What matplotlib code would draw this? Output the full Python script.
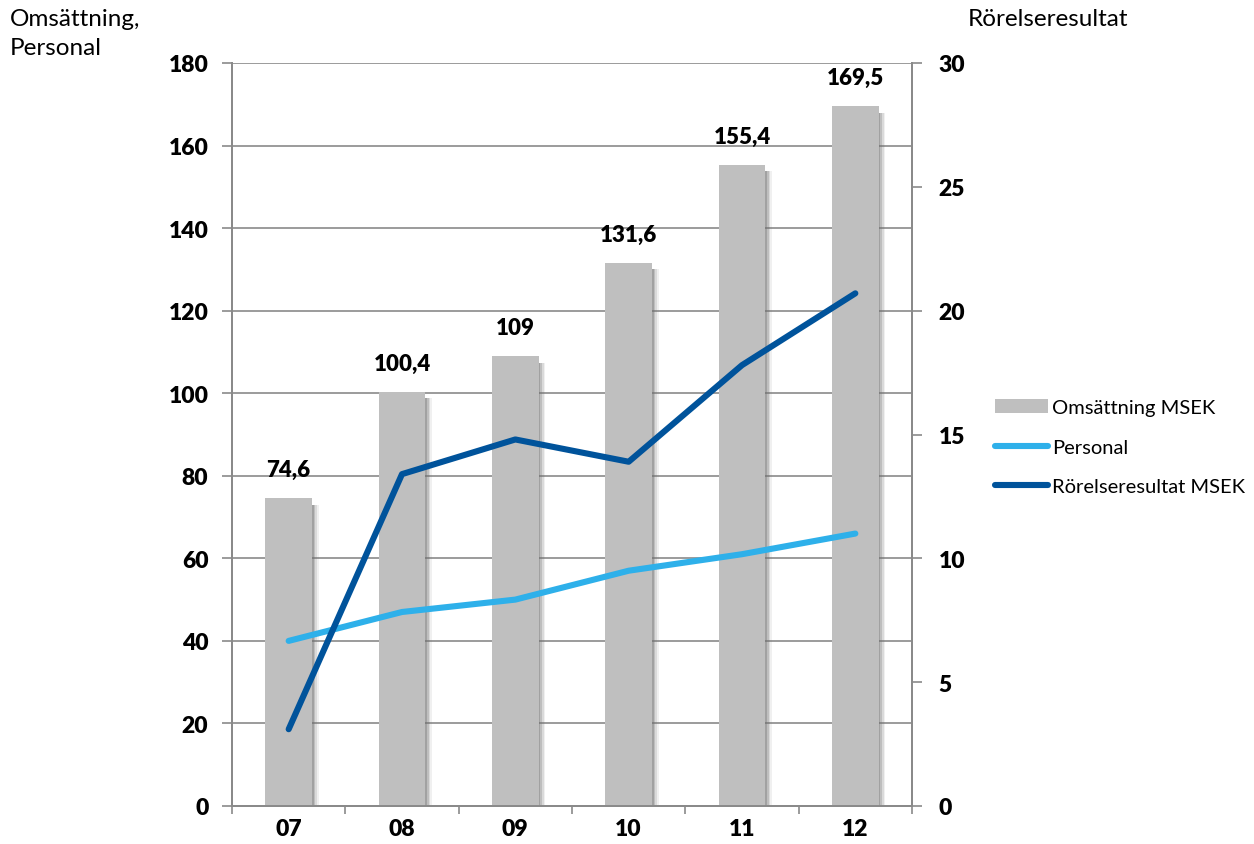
"""Omsättning, personal och rörelseresultat 2007-2012"""

import numpy as np
import matplotlib.pyplot as plt
from matplotlib.lines import Line2D
from matplotlib.patches import Patch

years = ['07', '08', '09', '10', '11', '12']
omsattning = [74.6, 100.4, 109, 131.6, 155.4, 169.5]
omsattning_labels = ['74,6', '100,4', '109', '131,6', '155,4', '169,5']
personal = [40, 47, 50, 57, 61, 66]
rorelseresultat = [3.1, 13.4, 14.8, 13.9, 17.8, 20.7]

BAR_COLOR = '#BFBFBF'
LIGHT_BLUE = '#2EB0EA'
DARK_BLUE = '#00539B'
AXIS_GRAY = '#8A8A8A'

plt.rcParams['font.family'] = ['Lato', 'DejaVu Sans']

fig = plt.figure(figsize=(12.54, 8.45), dpi=100)
ax = fig.add_axes([232 / 1254, 1 - 807 / 845, 680 / 1254, 743 / 845])
ax2 = ax.twinx()

x = np.arange(len(years))
width = 0.41

# soft shadow to the right of the bars
for off, a in [(0.06, 0.10), (0.045, 0.17), (0.03, 0.26), (0.015, 0.36)]:
    ax.bar(x + off, [v - 0.8 for v in omsattning], width, bottom=-0.8,
           color='#707070', alpha=a, zorder=2, linewidth=0)
ax.bar(x, omsattning, width, color=BAR_COLOR, zorder=3, linewidth=0)

for xi, v, lab in zip(x, omsattning, omsattning_labels):
    ax.annotate(lab, (xi, v), xytext=(0, 13), textcoords='offset points',
                ha='center', va='bottom', fontsize=16, fontweight='heavy')

ax.plot(x, personal, color=LIGHT_BLUE, lw=4.4, solid_capstyle='round', zorder=4)
ax2.plot(x, rorelseresultat, color=DARK_BLUE, lw=4.4, solid_capstyle='round')

ax.set_xlim(-0.5, 5.5)
ax.set_ylim(0, 180)
ax2.set_ylim(0, 30)
ax.set_yticks(range(0, 181, 20))
ax2.set_yticks(range(0, 31, 5))
ax.set_xticks(x)
ax.set_xticklabels(years)
ax.set_xticks(np.arange(-0.5, 6, 1), minor=True)

ax.yaxis.grid(True, color=AXIS_GRAY, lw=1.2, zorder=0)
ax.set_axisbelow(True)

for a in (ax, ax2):
    for s in a.spines.values():
        s.set_color(AXIS_GRAY)
        s.set_linewidth(1.4)
    a.spines['top'].set_visible(False)

ax.tick_params(axis='y', length=7, width=1.2, color=AXIS_GRAY, pad=10,
               labelsize=16.5)
ax2.tick_params(axis='y', length=7, width=1.2, color=AXIS_GRAY, pad=12,
                labelsize=16.5)
ax.tick_params(axis='x', which='major', length=0, pad=9, labelsize=16.5)
ax.tick_params(axis='x', which='minor', length=6, width=1.2, color=AXIS_GRAY)
for lab in ax.get_yticklabels() + ax2.get_yticklabels() + ax.get_xticklabels():
    lab.set_fontweight('heavy')

fig.text(10 / 1254, 1 - 9 / 845, 'Omsättning,\nPersonal', ha='left', va='top',
         fontsize=17.5, linespacing=1.45)
fig.text(968 / 1254, 1 - 9 / 845, 'Rörelseresultat', ha='left', va='top',
         fontsize=17.5)

handles = [
    Patch(facecolor=BAR_COLOR, edgecolor='none'),
    Line2D([], [], color=LIGHT_BLUE, lw=4.4, solid_capstyle='round'),
    Line2D([], [], color=DARK_BLUE, lw=4.4, solid_capstyle='round'),
]
labels = ['Omsättning MSEK', 'Personal', 'Rörelseresultat MSEK']
fig.legend(handles, labels, loc='center left',
           bbox_to_anchor=(995 / 1254, 1 - 448 / 845), frameon=False,
           fontsize=14.5, handlelength=2.65, handletextpad=0.2,
           labelspacing=1.12, borderaxespad=0, borderpad=0)

fig.savefig('out.png', dpi=100)
